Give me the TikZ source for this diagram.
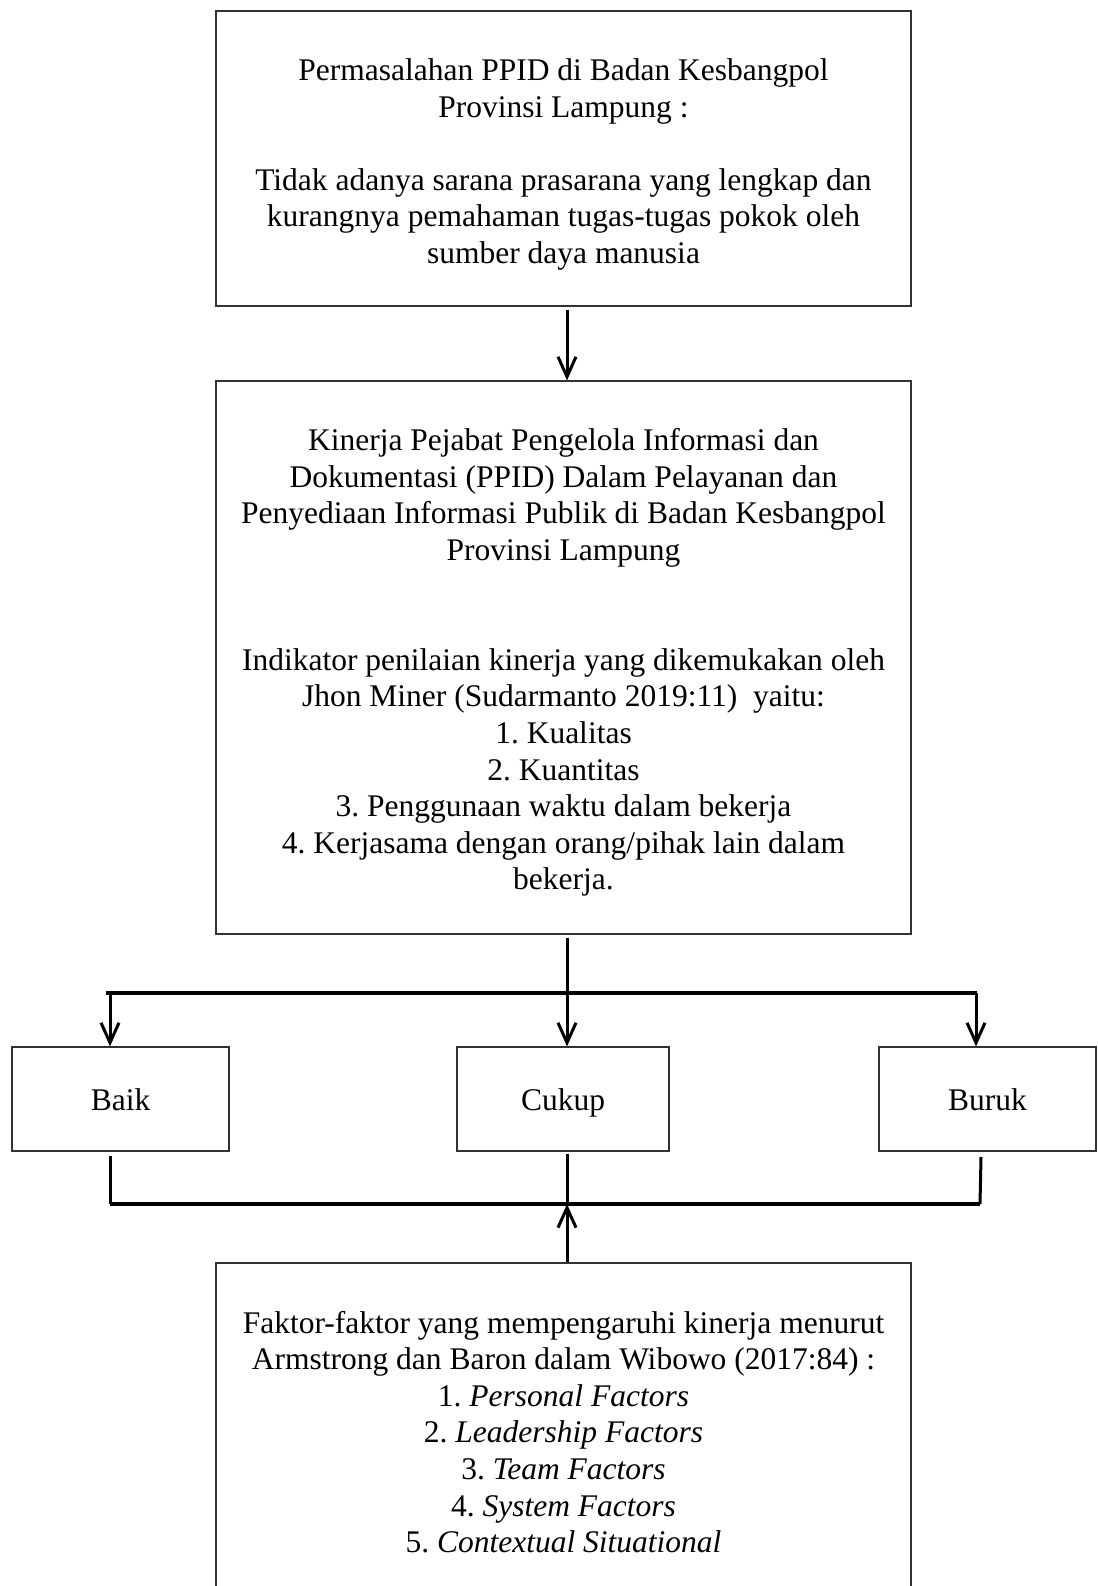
\documentclass[tikz,border=0pt]{standalone}
\usepackage{fontspec}
\setmainfont{Liberation Serif}
\usetikzlibrary{arrows.meta}
\begin{document}
\frenchspacing
\begin{tikzpicture}[x=1pt,y=-1pt,
  box/.style={draw=black!80, line width=1.2pt, inner sep=0pt},
  txt/.style={align=center, inner sep=0pt,
    font=\fontsize{31.5}{36.6}\selectfont},
  lbl/.style={inner sep=0pt, text height=21pt, text depth=7pt,
    font=\fontsize{31.5}{36.6}\selectfont},
  conn/.style={line width=3pt, -{Straight Barb[length=20pt,width=18pt]}},
  plain/.style={line width=3pt},
  bar/.style={line width=3.6pt}]
\clip (0,0) rectangle (1097,1586);
\useasboundingbox (0,0) rectangle (1097,1586);

\node[box, minimum width=695pt, minimum height=295pt] (b1) at (563.5,158.5) {};
\node[txt] (t1) at ([yshift=-6pt]b1.center)
 {Permasalahan PPID di Badan Kesbangpol\\Provinsi Lampung :\\[36.6pt]
  Tidak adanya sarana prasarana yang lengkap dan\\
  kurangnya pemahaman tugas-tugas pokok oleh\\
  sumber daya manusia};

\node[box, minimum width=695pt, minimum height=553pt] (b2) at (563.5,657.5) {};
\node[txt] (t2) at ([yshift=-5pt]b2.center)
 {Kinerja Pejabat Pengelola Informasi dan\\
  Dokumentasi (PPID) Dalam Pelayanan dan\\
  Penyediaan Informasi Publik di Badan Kesbangpol\\
  Provinsi Lampung\\[73.2pt]
  Indikator penilaian kinerja yang dikemukakan oleh\\
  Jhon Miner (Sudarmanto 2019:11)\ \ yaitu:\\
  1. Kualitas\\
  2. Kuantitas\\
  3. Penggunaan waktu dalam bekerja\\
  4. Kerjasama dengan orang/pihak lain dalam\\
  bekerja.};

\node[box, minimum width=217pt, minimum height=104pt] (baik) at (120.5,1099) {};
\node[lbl] (tbaik) at ([yshift=-4pt]baik.center) {Baik};
\node[box, minimum width=212pt, minimum height=104pt] (cukup) at (563,1099) {};
\node[lbl] (tcukup) at ([yshift=-4pt]cukup.center) {Cukup};
\node[box, minimum width=217pt, minimum height=104pt] (buruk) at (987.5,1099) {};
\node[lbl] (tburuk) at ([yshift=-4pt]buruk.center) {Buruk};

\node[box, minimum width=695pt, minimum height=334pt] (b3) at (563.5,1430) {};
\node[txt] (t3) at ([yshift=-2pt]b3.center)
 {Faktor-faktor yang mempengaruhi kinerja menurut\\
  Armstrong dan Baron dalam Wibowo (2017:84) :\\
  1. \textit{Personal Factors}\\
  2. \textit{Leadership Factors}\\
  3. \textit{Team Factors}\\
  4. \textit{System Factors}\\
  5. \textit{Contextual Situational}};

% centre line x
\coordinate (cx) at (567,0);

% top arrow
\draw[conn] ([yshift=-3pt]b1.south -| cx) -- (b2.north -| cx);

% distribution bar
\coordinate (tl) at (106,993);
\coordinate (tr) at (977,993);
\coordinate (al) at (110,993);
\coordinate (ar) at (976,993);
\draw[bar] (tl) -- (tr);
\draw[conn] (al) -- (al |- baik.north);
\draw[conn] (ar) -- (ar |- buruk.north);
\draw[conn] ([yshift=-3pt]b2.south -| cx) -- (cukup.north -| cx);

% collecting bar
\coordinate (bl) at (110,1204);
\coordinate (br) at (980,1204);
\coordinate (dl) at (110,1156);
\coordinate (dr) at (981,1157);
\draw[plain] (dl) -- (bl);
\draw[plain] (dr) -- (br);
\draw[line width=4pt] (bl) -- (br);
\draw[plain] ([yshift=-2pt]cukup.south -| cx) -- (bl -| cx);
\draw[conn] (b3.north -| cx) -- (bl -| cx);
\end{tikzpicture}
\end{document}
